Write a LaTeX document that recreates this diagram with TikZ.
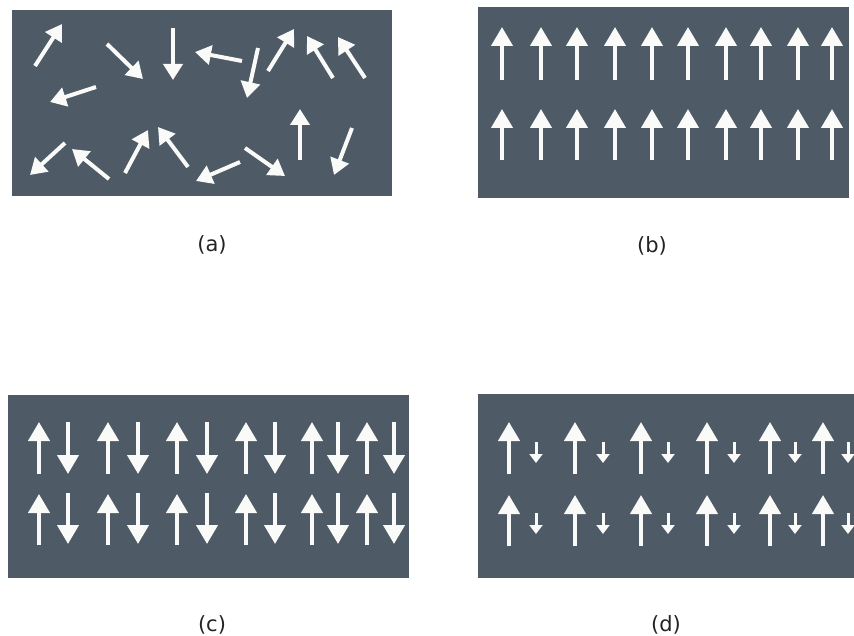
\documentclass[tikz,border=0pt]{standalone}
\usepackage{fontspec}
\setmainfont{DejaVu Sans}
\usetikzlibrary{arrows.meta}

\definecolor{panelgray}{RGB}{78,91,103}
\definecolor{spinwhite}{RGB}{250,250,248}
\definecolor{captiongray}{RGB}{35,35,35}

\tikzset{
  panel/.style={fill=panelgray, draw=none},
  spinrand/.style={draw=spinwhite, line width=4pt, -{Triangle[length=16pt,width=19pt]}},
  spinbig/.style={draw=spinwhite, line width=4.2pt, -{Triangle[length=19pt,width=21pt]}},
  spinsmall/.style={draw=spinwhite, line width=3pt, -{Triangle[length=9pt,width=13pt]}},
  caption/.style={font=\fontsize{21}{24}\selectfont, text=captiongray, inner sep=0pt}
}

\begin{document}
\begin{tikzpicture}[x=1pt,y=-1pt]
  \useasboundingbox (0,0) rectangle (854,636);

  % (a) paramagnet: randomly oriented moments
  \fill[panel] (12,10) rectangle (392,196);
  \foreach \tx/\ty/\hx/\hy in {
      35/66/62/24, 107/44/143/79, 173/28/173/80, 242/61/195/52,
      258/48/247/98, 268/71/294/29, 333/78/307/36, 365/78/338/37,
      96/87/50/102, 65/143/30/175, 109/179/72/149, 125/173/148/130,
      188/167/158/127, 240/162/196/181, 245/148/285/176, 300/160/300/109,
      352/128/334/175}
    \draw[spinrand] (\tx,\ty) -- (\hx,\hy);

  % (b) ferromagnet: all moments parallel
  \fill[panel] (478,7) rectangle (849,198);
  \foreach \x in {502,541,577,615,652,688,726,761,798,832}{
    \draw[spinbig] (\x,80) -- (\x,27);
    \draw[spinbig] (\x,160) -- (\x,109);
  }

  % (c) antiferromagnet: equal antiparallel moments
  \fill[panel] (8,395) rectangle (409,578);
  \foreach \u/\d in {39/68,108/138,177/207,246/275,312/338,367/394}{
    \draw[spinbig] (\u,474) -- (\u,422);
    \draw[spinbig] (\d,422) -- (\d,474);
    \draw[spinbig] (\u,545) -- (\u,494);
    \draw[spinbig] (\d,493) -- (\d,544);
  }

  % (d) ferrimagnet: unequal antiparallel moments
  \fill[panel] (478,394) rectangle (854,578);
  \foreach \u/\d in {509/536,575/603,641/668,707/734,770/795,823/848}{
    \draw[spinbig] (\u,474) -- (\u,422);
    \draw[spinsmall] (\d,442) -- (\d,463);
    \draw[spinbig] (\u,546) -- (\u,495);
    \draw[spinsmall] (\d,513) -- (\d,534);
  }

  % captions
  \node[caption] (capa) at (212,245) {(a)};
  \node[caption] (capb) at (652,246) {(b)};
  \node[caption] (capc) at (212,625) {(c)};
  \node[caption] (capd) at (666,625) {(d)};
\end{tikzpicture}
\end{document}
